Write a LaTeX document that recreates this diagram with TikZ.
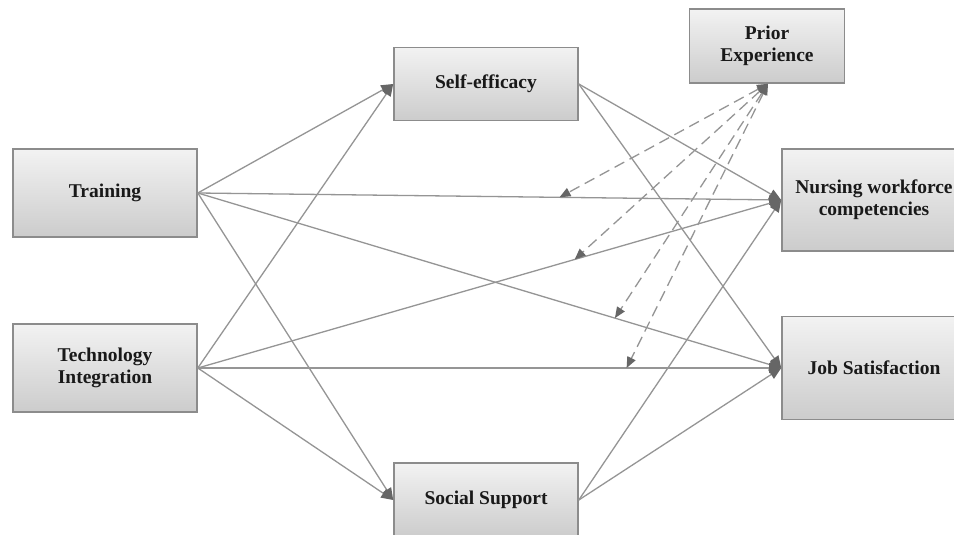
\documentclass[tikz,border=0pt]{standalone}
\usepackage{fontspec}
\setmainfont{Liberation Serif}
\usetikzlibrary{arrows.meta}
\definecolor{edgegray}{HTML}{8C8C8C}
\definecolor{linegray}{HTML}{959595}
\definecolor{tipgray}{HTML}{666666}
\begin{document}
\begin{tikzpicture}[x=1pt,y=-1pt,
  box/.style={draw=edgegray, line width=1.6pt, top color=gray!10, bottom color=gray!40,
    minimum width=184pt, inner sep=2pt, align=center,
    font=\fontsize{19.5}{22}\selectfont\bfseries, text=black!90},
  link/.style={draw=linegray, line width=1.3pt, -{Triangle[length=12pt,width=10pt,color=tipgray,fill=tipgray]}},
  mod/.style={draw=linegray, line width=1.3pt, dash pattern=on 11pt off 6pt,
    {Triangle[length=11pt,width=9pt,color=tipgray,fill=tipgray]}-{Triangle[length=11pt,width=9pt,color=tipgray,fill=tipgray]}}
  ]
\useasboundingbox (0,0) rectangle (954,535);
\fill[white] (0,0) rectangle (954,535);
\begin{scope}
\clip (0,0) rectangle (954,535);
\node[box, minimum height=88pt] (train) at (105,193) {Training};
\node[box, minimum height=88pt] (tech) at (105,368) {Technology\\Integration};
\node[box, minimum height=73pt] (se) at (486,84) {Self-efficacy};
\node[box, minimum height=74pt, minimum width=155pt] (pe) at (767,46) {Prior\\Experience};
\node[box, minimum height=102pt] (nwc) at (874,200) {Nursing workforce\\competencies};
\node[box, minimum height=103pt] (js) at (874,368) {Job Satisfaction};
\node[box, minimum height=74pt] (ss) at (486,500) {Social Support};

\draw[link] (train.east) -- (se.west);
\draw[link] (train.east) -- (ss.west);
\draw[link] (train.east) -- (nwc.west);
\draw[link] (train.east) -- (js.west);
\draw[link] (tech.east) -- (se.west);
\draw[link] (tech.east) -- (ss.west);
\draw[link] (tech.east) -- (nwc.west);
\draw[link] (tech.east) -- (js.west);
\draw[link] (se.east) -- (nwc.west);
\draw[link] (se.east) -- (js.west);
\draw[link] (ss.east) -- (nwc.west);
\draw[link] (ss.east) -- (js.west);

\path (train.east) -- (nwc.west) coordinate[pos=0.62] (m1);
\path (tech.east) -- (nwc.west) coordinate[pos=0.646] (m2);
\path (train.east) -- (js.west) coordinate[pos=0.715] (m3);
\path (tech.east) -- (js.west) coordinate[pos=0.735] (m4);
\coordinate (pes) at ([xshift=1pt]pe.south);
\draw[mod] (pes) -- (m1);
\draw[mod] (pes) -- (m2);
\draw[mod] (pes) -- (m3);
\draw[mod] (pes) -- (m4);
\end{scope}
\end{tikzpicture}
\end{document}
